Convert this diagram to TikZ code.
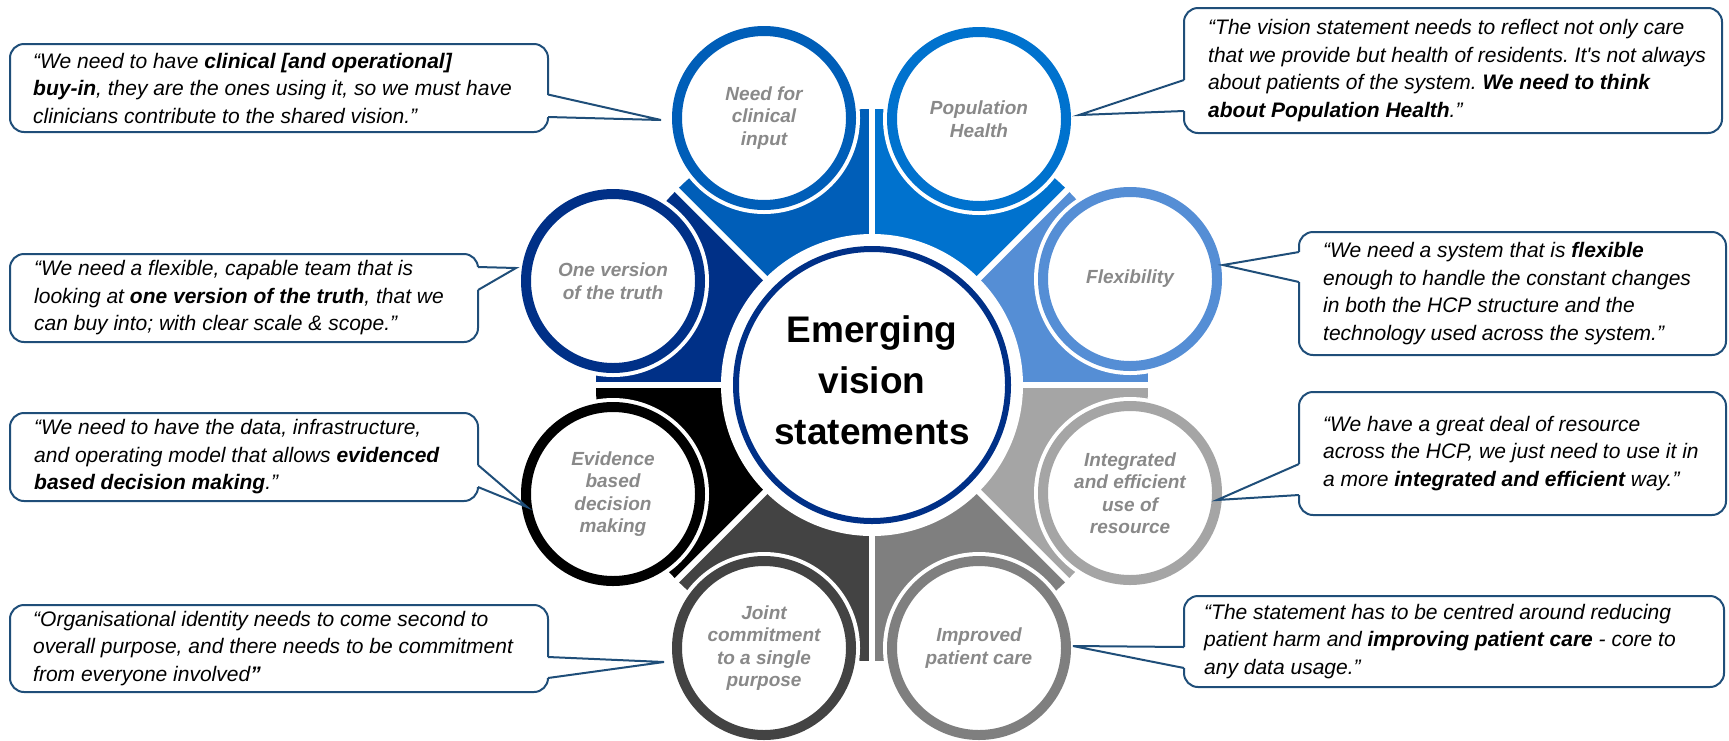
\documentclass[tikz,border=0pt]{standalone}
\usepackage{fontspec}
\setmainfont{Liberation Sans}
\frenchspacing
\definecolor{cNeed}{HTML}{005EB8}
\definecolor{cPop}{HTML}{0072CE}
\definecolor{cFlex}{HTML}{558ED5}
\definecolor{cInteg}{HTML}{A5A5A5}
\definecolor{cImpr}{HTML}{7F7F7F}
\definecolor{cJoint}{HTML}{434343}
\definecolor{cEvid}{HTML}{000000}
\definecolor{cOne}{HTML}{003087}
\definecolor{cHub}{HTML}{003087}
\definecolor{cQuote}{HTML}{1F4E79}
\definecolor{cLabel}{HTML}{898989}
\newcommand{\qpointer}[4]{%
  \draw[white, line width=3.2pt] (#1 |- 0,#2) -- (#1 |- 0,#3);
  \draw[ptr] (#1 |- 0,#2) -- (#4) -- (#1 |- 0,#3);}
\begin{document}
\begin{tikzpicture}[x=1pt,y=-1pt,
  sat/.style={circle, minimum size=174pt, inner sep=0pt, outer sep=0pt, fill=white,
    draw=#1, line width=10pt, preaction={draw=white, line width=18pt},
    text=cLabel, font=\fontsize{19}{22.5}\selectfont\bfseries\itshape, align=center},
  hubnode/.style={circle, minimum size=272pt, inner sep=0pt, fill=white, draw=cHub,
    line width=6pt, preaction={draw=white, line width=30pt}},
  hubtext/.style={font=\fontsize{37}{51}\selectfont\bfseries, align=center, text=black, inner sep=0pt},
  qbox/.style={draw=cQuote, line width=2pt, rounded corners=14pt, fill=white,
    inner sep=0pt, outer sep=0pt, anchor=north west},
  qtext/.style={font=\fontsize{21}{27.5}\selectfont\itshape, align=left, inner sep=0pt,
    text=black, anchor=west},
  ptr/.style={draw=cQuote, line width=2pt, line join=miter},
  sep/.style={white, line width=6pt}
]
\useasboundingbox (0,0) rectangle (1729,740);
\coordinate (hc) at (872,385);
% wedges
\fill[cNeed]  (hc) -- ++(-135:276) arc[start angle=-135, end angle=-90, radius=276] -- cycle;
\fill[cPop]   (hc) -- ++(-90:276)  arc[start angle=-90,  end angle=-45, radius=276] -- cycle;
\fill[cFlex]  (hc) -- ++(-45:276)  arc[start angle=-45,  end angle=0,   radius=276] -- cycle;
\fill[cInteg] (hc) -- ++(0:276)    arc[start angle=0,    end angle=45,  radius=276] -- cycle;
\fill[cImpr]  (hc) -- ++(45:276)   arc[start angle=45,   end angle=90,  radius=276] -- cycle;
\fill[cJoint] (hc) -- ++(90:276)   arc[start angle=90,   end angle=135, radius=276] -- cycle;
\fill[cEvid]  (hc) -- ++(135:276)  arc[start angle=135,  end angle=180, radius=276] -- cycle;
\fill[cOne]   (hc) -- ++(180:276)  arc[start angle=180,  end angle=225, radius=276] -- cycle;
\foreach \a in {0,45,...,315} \draw[sep] (hc) -- ++(\a:285);
% hub
\node[hubnode] (hub) at (hc) {};
\node[hubtext] (hubt) at (872,380) {Emerging\\vision\\statements};
% satellites
\node[sat=cNeed]  (need)  at (764,118) {Need for\\clinical\\input};
\node[sat=cPop]   (pop)   at (979,119) {Population\\Health};
\node[sat=cOne]   (one)   at (613,281) {One version\\of the truth};
\node[sat=cFlex]  (flex)  at (1130,279) {Flexibility};
\node[sat=cEvid]  (evid)  at (613,494) {Evidence\\based\\decision\\making};
\node[sat=cInteg] (integ) at (1130,493) {Integrated\\and efficient\\use of\\resource};
\node[sat=cJoint] (joint) at (764,648) {Joint\\commitment\\to a single\\purpose};
\node[sat=cImpr]  (impr)  at (979,648) {Improved\\patient care};
% pointer tips
\coordinate (t1) at (661,120);
\coordinate (t2) at (1079,115);
\coordinate (t3) at (516,268);
\coordinate (t4) at (1223,265);
\coordinate (t5) at (527,507);
\coordinate (t6) at (1217,500);
\coordinate (t7) at (664,662);
\coordinate (t8) at (1073,646);
% quote boxes
\node[qbox, minimum width=538pt, minimum height=88pt]  (q1) at (10,44) {};
\node[qbox, minimum width=538pt, minimum height=125pt] (q2) at (1184,8) {};
\node[qbox, minimum width=468pt, minimum height=88pt]  (q3) at (10,254) {};
\node[qbox, minimum width=427pt, minimum height=123pt] (q4) at (1299,232) {};
\node[qbox, minimum width=468pt, minimum height=88pt]  (q5) at (10,413) {};
\node[qbox, minimum width=427pt, minimum height=123pt] (q6) at (1299,392) {};
\node[qbox, minimum width=538pt, minimum height=87pt]  (q7) at (10,605) {};
\node[qbox, minimum width=540pt, minimum height=91pt]  (q8) at (1184,596) {};
% quote texts
\node[qtext] (q1t) at ([xshift=23pt]q1.west) {“We need to have \textbf{clinical [and operational]}\\\textbf{buy-in}, they are the ones using it, so we must have\\clinicians contribute to the shared vision.”};
\node[qtext] (q2t) at ([xshift=24pt]q2.west) {“The vision statement needs to reflect not only care\\that we provide but health of residents. It\textquotesingle s not always\\about patients of the system. \textbf{We need to think}\\\textbf{about Population Health}.”};
\node[qtext] (q3t) at ([xshift=24pt]q3.west) {“We need a flexible, capable team that is\\looking at \textbf{one version of the truth}, that we\\can buy into; with clear scale \& scope.”};
\node[qtext] (q4t) at ([xshift=24pt]q4.west) {“We need a system that is \textbf{flexible}\\enough to handle the constant changes\\in both the HCP structure and the\\technology used across the system.”};
\node[qtext] (q5t) at ([xshift=24pt]q5.west) {“We need to have the data, infrastructure,\\and operating model that allows \textbf{evidenced}\\\textbf{based decision making}.”};
\node[qtext] (q6t) at ([xshift=24pt]q6.west) {“We have a great deal of resource\\across the HCP, we just need to use it in\\a more \textbf{integrated and efficient} way.”};
\node[qtext] (q7t) at ([xshift=23pt]q7.west) {“Organisational identity needs to come second to\\overall purpose, and there needs to be commitment\\from everyone involved\textbf{”}};
\node[qtext] (q8t) at ([xshift=20pt]q8.west) {“The statement has to be centred around reducing\\patient harm and \textbf{improving patient care} - core to\\any data usage.”};
% pointers
\qpointer{q1.east}{94.5}{117}{t1}
\qpointer{q2.west}{80}{111}{t2}
\qpointer{q3.east}{267}{290}{t3}
\qpointer{q4.west}{252}{282}{t4}
\qpointer{q5.east}{465}{487}{t5}
\qpointer{q6.west}{464}{495}{t6}
\qpointer{q7.east}{657}{678}{t7}
\qpointer{q8.west}{647}{668}{t8}
\end{tikzpicture}
\end{document}
